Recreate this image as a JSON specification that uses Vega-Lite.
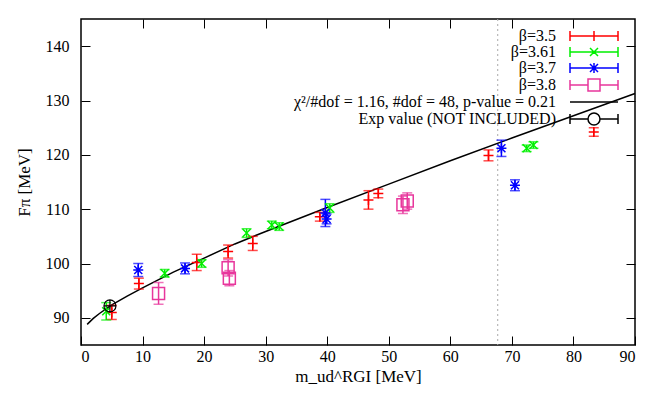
{
  "$schema": "https://vega.github.io/schema/vega-lite/v6.json",
  "width": 554,
  "height": 326,
  "autosize": "none",
  "padding": {"left": 81, "top": 19, "right": 29, "bottom": 57},
  "background": "white",
  "config": {
    "view": {"stroke": "black", "strokeWidth": 1.5},
    "font": "Liberation Serif",
    "axis": {
      "labelFont": "Liberation Serif", "labelFontSize": 16, "labelColor": "black",
      "titleFont": "Liberation Serif", "titleFontSize": 17, "titleFontWeight": "normal", "titleColor": "black",
      "tickColor": "black", "tickSize": -9, "tickWidth": 1, "domain": false, "grid": false
    },
    "legend": {"labelFont": "Liberation Serif", "titleFont": "Liberation Serif"}
  },
  "datasets": {
    "pts": [
      {"series": "β=3.5", "m": 5.0, "F": 91.0, "lo": 89.7, "hi": 92.3},
      {"series": "β=3.5", "m": 9.4, "F": 96.3, "lo": 95.3, "hi": 97.3},
      {"series": "β=3.5", "m": 18.8, "F": 100.2, "lo": 98.7, "hi": 101.7},
      {"series": "β=3.5", "m": 23.9, "F": 102.2, "lo": 101.0, "hi": 103.4},
      {"series": "β=3.5", "m": 27.9, "F": 103.7, "lo": 102.4, "hi": 105.0},
      {"series": "β=3.5", "m": 38.8, "F": 108.6, "lo": 107.8, "hi": 109.4},
      {"series": "β=3.5", "m": 46.7, "F": 111.7, "lo": 110.0, "hi": 113.4},
      {"series": "β=3.5", "m": 48.3, "F": 112.9, "lo": 112.1, "hi": 113.7},
      {"series": "β=3.5", "m": 66.2, "F": 119.9, "lo": 118.9, "hi": 120.9},
      {"series": "β=3.5", "m": 83.3, "F": 124.2, "lo": 123.4, "hi": 125.0},
      {"series": "β=3.61", "m": 4.1, "F": 91.2, "lo": 89.6, "hi": 92.8},
      {"series": "β=3.61", "m": 13.6, "F": 98.2, "lo": 97.5, "hi": 98.9},
      {"series": "β=3.61", "m": 19.6, "F": 100.0, "lo": 99.3, "hi": 100.7},
      {"series": "β=3.61", "m": 26.9, "F": 105.6, "lo": 104.8, "hi": 106.4},
      {"series": "β=3.61", "m": 31.0, "F": 107.1, "lo": 106.4, "hi": 107.8},
      {"series": "β=3.61", "m": 32.2, "F": 106.8, "lo": 106.1, "hi": 107.5},
      {"series": "β=3.61", "m": 40.4, "F": 110.2, "lo": 109.4, "hi": 111.0},
      {"series": "β=3.61", "m": 72.4, "F": 121.2, "lo": 120.6, "hi": 121.8},
      {"series": "β=3.61", "m": 73.5, "F": 121.8, "lo": 121.2, "hi": 122.4},
      {"series": "β=3.7", "m": 9.3, "F": 98.8, "lo": 97.6, "hi": 100.0},
      {"series": "β=3.7", "m": 16.9, "F": 99.1, "lo": 98.1, "hi": 100.1},
      {"series": "β=3.7", "m": 39.7, "F": 109.3, "lo": 106.8, "hi": 111.8},
      {"series": "β=3.7", "m": 39.9, "F": 108.2, "lo": 107.3, "hi": 109.1},
      {"series": "β=3.7", "m": 68.3, "F": 121.2, "lo": 119.7, "hi": 122.7},
      {"series": "β=3.7", "m": 70.5, "F": 114.4, "lo": 113.4, "hi": 115.4},
      {"series": "β=3.8", "m": 12.6, "F": 94.5, "lo": 92.5, "hi": 96.5},
      {"series": "β=3.8", "m": 23.9, "F": 99.2, "lo": 97.7, "hi": 100.7},
      {"series": "β=3.8", "m": 24.1, "F": 97.3, "lo": 95.9, "hi": 98.7},
      {"series": "β=3.8", "m": 52.3, "F": 110.8, "lo": 109.2, "hi": 112.4},
      {"series": "β=3.8", "m": 53.0, "F": 111.5, "lo": 110.0, "hi": 113.0}
    ],
    "fit": [
      {"m": 1, "F": 88.8}, {"m": 2, "F": 89.9}, {"m": 3, "F": 90.8}, {"m": 5, "F": 92.4},
      {"m": 7.5, "F": 94.0}, {"m": 10, "F": 95.5}, {"m": 15, "F": 98.4}, {"m": 20, "F": 101.0},
      {"m": 25, "F": 103.6}, {"m": 30, "F": 105.9}, {"m": 40, "F": 110.3}, {"m": 50, "F": 114.6},
      {"m": 60, "F": 118.9}, {"m": 70, "F": 123.1}, {"m": 80, "F": 127.2}, {"m": 90, "F": 131.3}
    ],
    "exp": [{"m": 4.7, "F": 92.2}],
    "vline": [{"m": 67.7}]
  },
  "layer": [
    {
      "data": {"name": "vline"},
      "mark": {"type": "rule", "color": "#aaaaaa", "strokeDash": [2, 3], "strokeWidth": 1},
      "encoding": {"x": {"field": "m", "type": "quantitative", "axis": null}}
    },
    {
      "data": {"name": "fit"},
      "mark": {"type": "line", "strokeWidth": 1.5},
      "encoding": {
        "x": {"field": "m", "type": "quantitative", "scale": {"domain": [0, 90], "nice": false},
              "axis": {"orient": "top", "labels": false, "title": null, "values": [10,20,30,40,50,60,70,80]}},
        "y": {"field": "F", "type": "quantitative", "scale": {"domain": [85, 145], "nice": false, "zero": false},
              "axis": {"orient": "right", "labels": false, "title": null, "values": [90,100,110,120,130,140]}},
        "color": {"datum": "χ²/#dof = 1.16, #dof = 48, p-value = 0.21", "type": "nominal", "title": null,
          "scale": {
            "domain": ["β=3.5", "β=3.61", "β=3.7", "β=3.8", "χ²/#dof = 1.16, #dof = 48, p-value = 0.21", "Exp value (NOT INCLUDED)"],
            "range": ["#ff0000", "#00f000", "#0000ff", "#e8369c", "#000000", "#000000"]
          },
          "legend": {
            "orient": "none", "legendX": 505, "legendY": 9, "title": null,
            "symbolSize": 100, "symbolStrokeWidth": 1.5, "rowPadding": 0,
            "symbolFillColor": "transparent", "symbolOpacity": 1,
            "labelFont": "Liberation Serif", "labelFontSize": 16, "labelColor": "black",
            "labelAlign": "right", "labelOffset": -46, "labelLimit": 600,
            "encode": {
              "symbols": {"update": {
                "fill": {"value": "transparent"},
                "fillOpacity": {"value": 0},
                "opacity": {"value": 1},
                "strokeWidth": {"value": 1.5},
                "stroke": {"signal": "scale('color', datum.value)"},
                "shape": {"signal": "datum.value === 'β=3.5' ? 'M-4.8,0H4.8M-4.8,-1V1M4.8,-1V1M0,-1V1' : datum.value === 'β=3.61' ? 'M-4.8,0H4.8M-4.8,-1V1M4.8,-1V1M-0.8,-0.8L0.8,0.8M-0.8,0.8L0.8,-0.8' : datum.value === 'β=3.7' ? 'M-4.8,0H4.8M-4.8,-1V1M4.8,-1V1M0,-1V1M-0.8,-0.8L0.8,0.8M-0.8,0.8L0.8,-0.8' : datum.value === 'β=3.8' ? 'M-4.8,0H-1.2M1.2,0H4.8M-4.8,-1V1M4.8,-1V1M-1.2,-1.2H1.2V1.2H-1.2Z' : datum.value === 'Exp value (NOT INCLUDED)' ? 'M-4.8,0H-1.2M1.2,0H4.8M-4.8,-1V1M4.8,-1V1M1.2,0A1.2,1.2,0,1,1,-1.2,0A1.2,1.2,0,1,1,1.2,0' : 'M-4.8,0H4.8'"}
              }}
            }
          }
        }
      }
    },
    {
      "data": {"name": "pts"},
      "mark": {"type": "rule", "strokeWidth": 1.5},
      "encoding": {
        "x": {"field": "m", "type": "quantitative",
              "axis": {"orient": "bottom", "title": "m_ud^RGI [MeV]", "values": [0,10,20,30,40,50,60,70,80,90], "labelPadding": 12, "titlePadding": 4, "labelFont": "Liberation Serif", "titleFont": "Liberation Serif"}},
        "y": {"field": "lo", "type": "quantitative",
              "axis": {"orient": "left", "title": "Fπ [MeV]", "values": [90,100,110,120,130,140], "labelPadding": 21, "titlePadding": 12, "labelFont": "Liberation Serif", "titleFont": "Liberation Serif"}},
        "y2": {"field": "hi"},
        "color": {"field": "series", "type": "nominal", "title": null}
      }
    },
    {
      "data": {"name": "pts"},
      "mark": {"type": "tick", "orient": "horizontal", "size": 10, "thickness": 1.5},
      "encoding": {
        "x": {"field": "m", "type": "quantitative", "axis": null},
        "y": {"field": "lo", "type": "quantitative", "axis": null},
        "color": {"field": "series", "type": "nominal", "title": null}
      }
    },
    {
      "data": {"name": "pts"},
      "mark": {"type": "tick", "orient": "horizontal", "size": 10, "thickness": 1.5},
      "encoding": {
        "x": {"field": "m", "type": "quantitative", "axis": null},
        "y": {"field": "hi", "type": "quantitative", "axis": null},
        "color": {"field": "series", "type": "nominal", "title": null}
      }
    },
    {
      "data": {"name": "pts"},
      "mark": {"type": "point", "filled": false, "size": 100, "strokeWidth": 1.5, "opacity": 1},
      "encoding": {
        "x": {"field": "m", "type": "quantitative", "axis": null},
        "y": {"field": "F", "type": "quantitative", "axis": null},
        "color": {"field": "series", "type": "nominal", "title": null},
        "shape": {"field": "series", "type": "nominal", "legend": null,
          "scale": {"domain": ["β=3.5", "β=3.61", "β=3.7", "β=3.8"],
                    "range": ["M-1,0H1M0,-1V1", "M-0.8,-0.8L0.8,0.8M-0.8,0.8L0.8,-0.8", "M-1,0H1M0,-1V1M-0.8,-0.8L0.8,0.8M-0.8,0.8L0.8,-0.8", "M-1.2,-1.2H1.2V1.2H-1.2Z"]}}
      }
    },
    {
      "data": {"name": "exp"},
      "mark": {"type": "point", "filled": false, "size": 100, "strokeWidth": 1.2, "opacity": 1,
               "shape": "M1.2,0A1.2,1.2,0,1,1,-1.2,0A1.2,1.2,0,1,1,1.2,0M-1.2,0H1.2M0,-1.2V1.2"},
      "encoding": {
        "x": {"field": "m", "type": "quantitative", "axis": null},
        "y": {"field": "F", "type": "quantitative", "axis": null},
        "color": {"datum": "Exp value (NOT INCLUDED)", "type": "nominal", "title": null}
      }
    }
  ],
  "resolve": {"axis": {"x": "independent", "y": "independent"}}
}
